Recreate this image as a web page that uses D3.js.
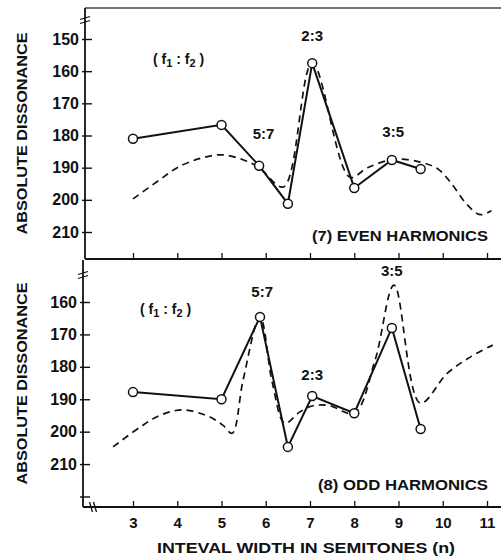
<!DOCTYPE html>
<html>
<head>
<meta charset="utf-8">
<script src="https://cdn.jsdelivr.net/npm/d3@7"></script>
<style>
  body { margin: 0; background: #fff; }
  svg text { font-family: "Liberation Sans", Arial, sans-serif; font-weight: bold; fill: #111; }
</style>
</head>
<body>
<div id="chart"></div>
<script>
// x ticks shared by both panels
var xTicks = [3, 4, 5, 6, 7, 8, 9, 10, 11];

// (7) even harmonics
var evenTicks = [150, 160, 170, 180, 190, 200, 210];
var evenPoints = [[3, 181], [5, 176.7], [5.85, 189.4], [6.5, 201.2], [7.05, 157.5], [8, 196.3], [8.85, 187.6], [9.5, 190.4]];
var evenCurve = [[3, 199.7], [3.6, 193.8], [4, 190], [4.5, 187.2], [5, 186], [5.5, 187.6], [5.85, 190], [6.4, 196], [7.05, 157.5],
    [7.9, 193], [8.3, 190], [8.9, 187.4], [9.5, 188.3], [9.9, 190.5], [10.2, 195], [10.55, 201.5], [10.84, 204.6], [11.1, 203.4]];
var evenLabels = [["2:3", 7.05, 150.5], ["5:7", 5.95, 181], ["3:5", 8.88, 180.5]];

// (8) odd harmonics
var oddTicks = [160, 170, 180, 190, 200, 210, 220];
var oddPoints = [[3, 187.8], [5, 190], [5.87, 164.6], [6.5, 204.7], [7.05, 189], [8, 194.3], [8.85, 168], [9.5, 199.2]];
var oddCurve = [[2.55, 204.7], [3.16, 198.6], [3.6, 195], [4.13, 193.3], [4.74, 195.5], [5.03, 198], [5.24, 200.5],
    [5.49, 184], [5.87, 164.5], [6.15, 185], [6.43, 197.4], [6.77, 193.9], [7.07, 192], [7.45, 192], [8, 194.3],
    [8.47, 178], [8.9, 154.8], [9.49, 191.2], [10.1, 182], [10.62, 177], [11.13, 173.3]];
var oddLabels = [["5:7", 5.92, 158.5], ["2:3", 7.05, 184], ["3:5", 8.85, 152]];

var svg = d3.select("#chart").append("svg")
    .attr("width", 501)
    .attr("height", 560);

var x = d3.scaleLinear().domain([3, 11]).range([133, 487]);
var yEven = d3.scaleLinear().domain([150, 210]).range([39, 232]);
var yOdd = d3.scaleLinear().domain([160, 220]).range([302, 496.5]);

var line = function (y) {
    return d3.line().x(function (d) { return x(d[0]); }).y(function (d) { return y(d[1]); });
};

function breakMark(cx, cy, vertical) {
    // two short slanted strokes across the axis
    for (var i = 0; i < 2; i++) {
        var o = i * 4 - 2;
        if (vertical) {
            svg.append("line").attr("x1", cx - 5).attr("x2", cx + 5)
                .attr("y1", cy + o + 1.5).attr("y2", cy + o - 1.5)
                .attr("stroke", "#111").attr("stroke-width", 1.3);
        } else {
            svg.append("line").attr("y1", cy - 5).attr("y2", cy + 5)
                .attr("x1", cx + o - 1.5).attr("x2", cx + o + 1.5)
                .attr("stroke", "#111").attr("stroke-width", 1.3);
        }
    }
}

function drawPanel(y, ticks, axisX, top, bottom, pts, curve, labels, title, fx, fy) {
    // y axis
    svg.append("g")
        .attr("transform", "translate(" + axisX + ",0)")
        .call(d3.axisLeft(y).tickValues(ticks).tickSize(-7).tickPadding(6)
            .tickFormat(function (d) { return d > 210 ? "" : d; }))
        .call(function (g) {
            g.select(".domain").remove();
            g.selectAll(".tick line").attr("stroke", "#111").attr("stroke-width", 1.4).attr("x1", -3);
            g.selectAll(".tick text").style("font-size", "16px").attr("fill", "#111");
        });
    svg.append("line").attr("x1", axisX).attr("x2", axisX).attr("y1", top).attr("y2", bottom)
        .attr("stroke", "#111").attr("stroke-width", 1.8);

    // dashed theoretical curve
    svg.append("path").datum(curve)
        .attr("d", line(y).curve(d3.curveCatmullRom.alpha(0.5)))
        .attr("fill", "none").attr("stroke", "#111").attr("stroke-width", 1.7)
        .attr("stroke-dasharray", "7,5");

    // measured values
    svg.append("path").datum(pts)
        .attr("d", line(y))
        .attr("fill", "none").attr("stroke", "#111").attr("stroke-width", 2);
    svg.append("g").selectAll("circle")
        .data(pts)
        .enter().append("circle")
        .attr("cx", function (d) { return x(d[0]); })
        .attr("cy", function (d) { return y(d[1]); })
        .attr("r", 4.5)
        .attr("fill", "#fff").attr("stroke", "#111").attr("stroke-width", 1.5);

    svg.append("g").selectAll("text")
        .data(labels)
        .enter().append("text")
        .attr("x", function (d) { return x(d[1]); })
        .attr("y", function (d) { return y(d[2]); })
        .attr("text-anchor", "middle")
        .style("font-size", "15px")
        .text(function (d) { return d[0]; });

    // (f1:f2)
    var f = svg.append("text").attr("x", fx).attr("y", fy).style("font-size", "14px");
    f.append("tspan").text("( f");
    f.append("tspan").attr("dy", 3).style("font-size", "11px").text("1");
    f.append("tspan").attr("dy", -3).text(" : f");
    f.append("tspan").attr("dy", 3).style("font-size", "11px").text("2");
    f.append("tspan").attr("dy", -3).text(" )");

    svg.append("text")
        .attr("x", 22).attr("y", (top + bottom) / 2)
        .attr("transform", "rotate(-90,22," + ((top + bottom) / 2) + ")")
        .attr("text-anchor", "middle")
        .attr("dy", "0.35em")
        .attr("textLength", 202).attr("lengthAdjust", "spacingAndGlyphs")
        .style("font-size", "15px")
        .text("ABSOLUTE DISSONANCE");

    svg.append("text")
        .attr("x", 488).attr("y", title[1])
        .attr("text-anchor", "end")
        .attr("textLength", title[2]).attr("lengthAdjust", "spacingAndGlyphs")
        .style("font-size", "15px")
        .text(title[0]);
}

// top border
svg.append("line").attr("x1", 85).attr("x2", 501).attr("y1", 8).attr("y2", 8)
    .attr("stroke", "#444").attr("stroke-width", 1.4);

drawPanel(yEven, evenTicks, 85, 8, 259, evenPoints, evenCurve, evenLabels,
    ["(7) EVEN HARMONICS", 241, 176], 153, 64);
drawPanel(yOdd, oddTicks, 83, 260, 507, oddPoints, oddCurve, oddLabels,
    ["(8) ODD HARMONICS", 490, 170], 140, 314);

// x axis of top panel (ticks only)
svg.append("g")
    .attr("transform", "translate(0,259)")
    .call(d3.axisBottom(x).tickValues(xTicks).tickSize(-6).tickFormat(""))
    .call(function (g) {
        g.select(".domain").remove();
        g.selectAll(".tick line").attr("stroke", "#111").attr("stroke-width", 1.3);
    });
svg.append("line").attr("x1", 85).attr("x2", 501).attr("y1", 259).attr("y2", 259)
    .attr("stroke", "#111").attr("stroke-width", 1.8);

// x axis of bottom panel
svg.append("g")
    .attr("transform", "translate(0,507)")
    .call(d3.axisBottom(x).tickValues(xTicks).tickSize(-6).tickPadding(10))
    .call(function (g) {
        g.select(".domain").remove();
        g.selectAll(".tick line").attr("stroke", "#111").attr("stroke-width", 1.3);
        g.selectAll(".tick text").style("font-size", "15px").attr("fill", "#111");
    });
svg.append("line").attr("x1", 83).attr("x2", 501).attr("y1", 507).attr("y2", 507)
    .attr("stroke", "#111").attr("stroke-width", 1.8);

breakMark(85, 20, true);
breakMark(83, 275, true);
breakMark(93, 507, false);

svg.append("text")
    .attr("x", 306).attr("y", 553)
    .attr("text-anchor", "middle")
    .attr("textLength", 298).attr("lengthAdjust", "spacingAndGlyphs")
    .style("font-size", "15px")
    .text("INTEVAL WIDTH IN SEMITONES (n)");
</script>
</body>
</html>
